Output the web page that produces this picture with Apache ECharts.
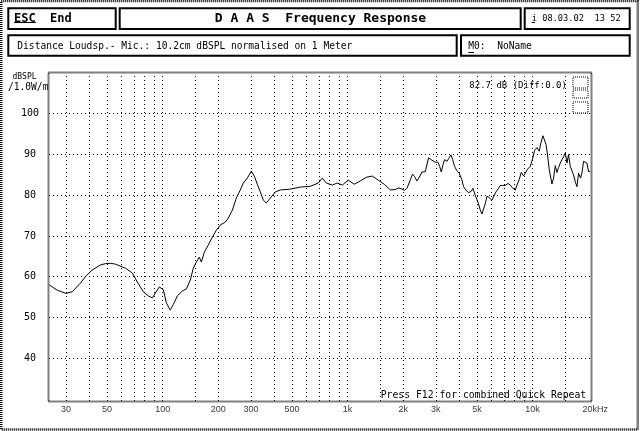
<!DOCTYPE html>
<html><head><meta charset="utf-8">
<script src="https://cdn.jsdelivr.net/npm/echarts@6/dist/echarts.min.js"></script>
<style>html,body{margin:0;padding:0;background:#fff}#c{width:640px;height:431px}</style>
</head><body><div id="c"></div>
<script>
// ---- data ----
const freqHz = [24.4,26.9,30,32.4,35.9,38.2,41.5,46.1,49,52.2,55.5,62.9,68.6,73,78.6,83.7,88,91.3,96,98.4,100.9,104.7,110,114.3,120.1,127.8,134.3,141.2,146.5,152.1,157.9,161.9,168,176.6,185.6,195.1,205,218.3,226.5,238.1,250.2,263,273.1,287,301.7,313.1,325,337.5,350.2,363.6,382.2,406.6,432.7,490,555,628.6,694.5,729.9,767.3,826.8,879.7,936,1009,1087,1171,1262,1360,1465,1579,1701,
1810,1887,1968,2032,2094,2182,2245,2302,2371,2441,2524,2630,2686,2741,2799,2858,2979,3082,3143,3210,3279,3344,3445,3516,3622,3696,3787,3900,4016,4150,4236,4363,4508,4664,4763,4900,5005,5105,5212,5327,5433,5549,5670,5835,6033,6152,6340,6550,6686,6887,7115,7359,7580,7740,7893,8063,8236,8474,8690,8937,9132,9398,9719,10000,10255,10567,10870,11100,11380,11570,11815,12010,12310,12730,12990,13270,13550,13820,14120,14420,14710,15030,15350,15650,15990,16330,16660,17020,17380,17730,17950,18180,18490,18870,19270,19680,20080,20510];
const splDb = [58.0,56.7,55.9,56.3,58.4,60.0,61.6,62.9,63.2,63.3,63.1,62.1,60.9,58.7,56.3,55.3,54.8,56.0,57.5,57.9,56.8,53.6,51.8,53.2,55.3,56.5,57.0,59.2,62.1,63.6,64.8,63.6,66.0,67.8,69.7,71.4,72.7,73.4,74.4,76.3,79.3,81.3,83.0,84.2,85.9,84.7,82.7,80.8,78.8,78.1,79.3,80.8,81.3,81.5,82.0,82.2,83.0,84.2,83.0,82.5,83.0,82.5,83.7,82.7,83.5,84.4,84.7,83.7,82.7,81.3,
81.4,81.8,81.5,81.2,81.7,83.75,85.2,84.6,83.5,84.4,85.7,85.8,86.25,89.2,89.3,88.6,88.1,88.1,87.1,85.7,87.5,88.75,88.3,89.0,89.9,88.75,87.1,86.0,85.4,83.75,82.1,81.25,80.6,81.0,81.7,80.0,79.6,77.9,76.4,75.4,75.8,77.9,79.75,79.4,78.75,79.6,80.8,81.7,82.4,82.4,82.4,82.9,82.5,81.9,82.25,81.25,82.5,83.9,85.6,84.75,85.4,86.4,87.1,88.9,91.0,91.7,90.8,92.9,94.6,94.6,92.5,90.4,86.25,82.75,84.2,87.25,85.6,86.8,87.9,88.75,89.4,90.4,87.9,90.0,87.1,87.1,85.0,83.3,82.1,85.4,85.8,84.2,85.4,88.3,88.75,87.9,85.8,85.8];
const xTickHz = [30,50,100,200,300,500,1000,2000,3000,5000,10000,20000];
const xTickLabels = ['30','50','100','200','300','500','1k','2k','3k','5k','10k','20kHz'];
const xGridHz = [30,40,50,60,70,80,90,100,150,200,300,400,500,600,700,800,900,1000,1500,2000,3000,4000,5000,6000,7000,8000,9000,10000,15000];
const yTicks = [40,50,60,70,80,90,100];

// ---- layout ----
const MONO = '"DejaVu Sans Mono", monospace';
const G = {left:49, top:73, width:542, height:328};
const Y_MIN = 29.5, Y_MAX = 110, X_MIN = 24.3, X_MAX = 20700;

function txt(text, x, y, font, align) {
  return {type:'text', silent:true, z:10, style:{text:text, x:x, y:y, font:font, fill:'#000', align:align||'left', verticalAlign:'middle'}};
}
function box(x0, y0, x1, y1) {
  return {type:'rect', silent:true, shape:{x:x0+1, y:y0+1, width:x1-x0-2, height:y1-y0-2}, style:{fill:'none', stroke:'#000', lineWidth:2}};
}
function uline(x0, x1, y) {
  return {type:'line', silent:true, shape:{x1:x0, y1:y, x2:x1, y2:y}, style:{stroke:'#000', lineWidth:1}};
}
function dotRect(x, y, w, h) {
  return {type:'rect', silent:true, shape:{x:x, y:y, width:w, height:h}, style:{fill:'none', stroke:'#000', lineWidth:1, lineDash:[1,1]}};
}

const chart = echarts.init(document.getElementById('c'), null, {renderer:'canvas'});
chart.setOption({
  animation:false,
  backgroundColor:'#fff',
  grid:{left:G.left, top:G.top, width:G.width, height:G.height, show:false},
  xAxis:{type:'log', logBase:10, min:X_MIN, max:X_MAX,
    axisLine:{show:false}, axisTick:{show:false}, axisLabel:{show:false}, splitLine:{show:false}},
  yAxis:{type:'value', min:Y_MIN, max:Y_MAX,
    axisLine:{show:false}, axisTick:{show:false}, splitLine:{show:false},
    axisLabel:{customValues:yTicks, align:'center', margin:19, fontFamily:MONO, fontSize:10, color:'#000'}},
  series:[
    {type:'line', data:freqHz.map((f,i)=>[f, splDb[i]]), showSymbol:false, symbol:'none', silent:true, z:5,
      lineStyle:{color:'#000', width:1},
      markLine:{silent:true, symbol:['none','none'], label:{show:false}, animation:false,
        lineStyle:{type:[1,3], color:'#000', width:1},
        emphasis:{disabled:true},
        data:[...xGridHz.map(v=>({xAxis:v})), ...yTicks.map(v=>({yAxis:v}))]}},
    {type:'scatter', silent:true, clip:false, symbolSize:1, itemStyle:{color:'rgba(0,0,0,0)'},
      data:xTickHz.map((f,i)=>({value:[f, Y_MIN], label: i===xTickHz.length-1 ? {offset:[7,0]} : {}})),
      label:{show:true, position:'bottom', distance:4, formatter:p=>xTickLabels[p.dataIndex],
        fontFamily:'"Liberation Sans", sans-serif', fontSize:9, color:'#000'}}
  ],
  graphic:[
    // outer frame
    {type:'rect', silent:true, shape:{x:1.25, y:1, width:636.5, height:428.5}, style:{fill:'none', stroke:'#000', lineWidth:2.5, lineDash:[1,1]}},
    // plot border
    {type:'rect', silent:true, shape:{x:G.left-0.5, y:G.top-0.5, width:G.width+1, height:G.height+1}, style:{fill:'none', stroke:'#000', lineWidth:2, lineDash:[1,1]}},
    // header boxes
    box(7.3, 7.3, 116.7, 30), box(118.7, 7.3, 521.7, 30), box(523.7, 7.3, 630.7, 30),
    box(7.3, 34.3, 457.7, 56.7), box(460, 34.3, 630.7, 56.7),
    txt('ESC  End', 14, 18.5, 'bold 12px ' + MONO), uline(14, 36, 22.5),
    txt('D A A S  Frequency Response', 320.5, 19, 'bold 13px ' + MONO, 'center'),
    txt('i 08.03.02  13 52', 531.7, 18.5, '8.7px ' + MONO), uline(531.7, 535, 22.5),
    txt('Distance Loudsp.- Mic.: 10.2cm dBSPL normalised on 1 Meter', 17.3, 46, '9.6px ' + MONO),
    txt('M0:  NoName', 468.3, 46, '9.6px ' + MONO), uline(468.3, 474, 52.5),
    txt('dBSPL', 24.5, 77, '8px ' + MONO, 'center'),
    txt('/1.0W/m', 28.2, 87.2, '9.6px ' + MONO, 'center'),
    txt('82.7 dB (Diff:0.0)', 469.3, 85.5, '9px ' + MONO),
    txt('Press F12 for combined Quick Repeat', 380.7, 395.5, '9.75px ' + MONO),
    dotRect(573, 77, 15, 11), dotRect(573, 90, 15, 8), dotRect(573, 102, 15, 11)
  ]
});
</script>
</body></html>
